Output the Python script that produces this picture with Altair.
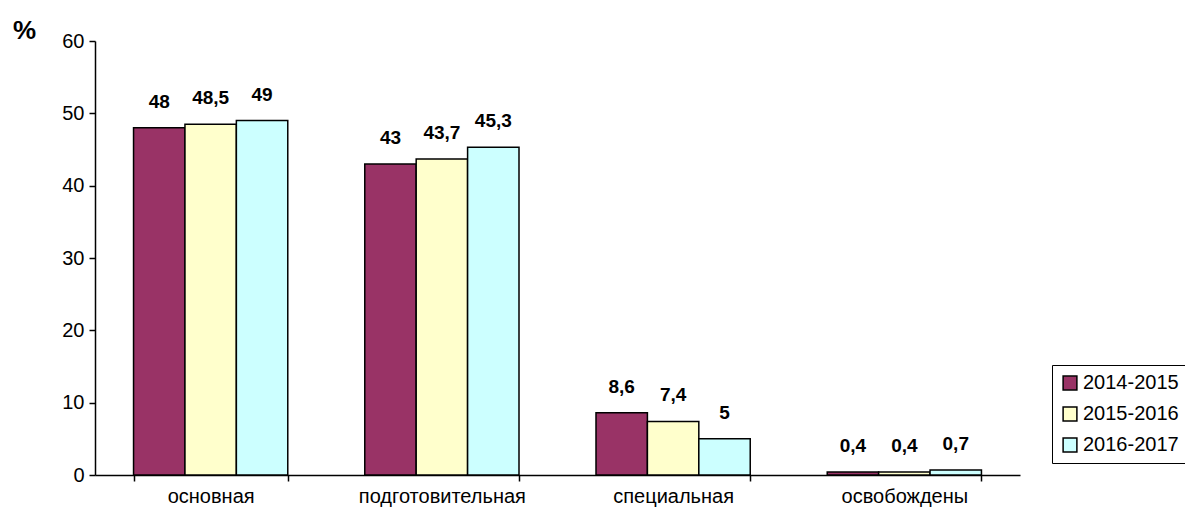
import altair as alt
import pandas as pd

categories = ["основная", "подготовительная", "специальная", "освобождены"]
years = ["2014-2015", "2015-2016", "2016-2017"]
values = {
    "2014-2015": [48, 43, 8.6, 0.4],
    "2015-2016": [48.5, 43.7, 7.4, 0.4],
    "2016-2017": [49, 45.3, 5, 0.7],
}
labels = {
    "2014-2015": ["48", "43", "8,6", "0,4"],
    "2015-2016": ["48,5", "43,7", "7,4", "0,4"],
    "2016-2017": ["49", "45,3", "5", "0,7"],
}
colors = ["#993366", "#FFFFCC", "#CCFFFF"]

rows = []
for y in years:
    for i, c in enumerate(categories):
        rows.append({"cat": c, "year": y, "value": values[y][i], "label": labels[y][i]})
df = pd.DataFrame(rows)

FONT = "Liberation Sans"

x = alt.X("cat:N", sort=categories, title=None,
          scale=alt.Scale(paddingInner=0.333, paddingOuter=0.1667),
          axis=alt.Axis(labelAngle=0, labelFontSize=20, labelColor="black", labelFont=FONT,
                        labelPadding=5, tickBand="extent", tickColor="black", tickSize=6,
                        domainColor="black", domainWidth=1.5, tickWidth=1.5))
xo = alt.XOffset("year:N", sort=years, scale=alt.Scale(paddingInner=0, paddingOuter=0))
yenc = alt.Y("value:Q", scale=alt.Scale(domain=[0, 60]),
             axis=alt.Axis(values=[0, 10, 20, 30, 40, 50, 60], grid=False, labelFontSize=20,
                           labelColor="black", labelFont=FONT, tickColor="black", tickSize=6,
                           domainColor="black", domainWidth=1.5, tickWidth=1.5, labelPadding=5,
                           title="%", titleAngle=0, titleX=-71, titleY=2, titleFontSize=26,
                           titleFontWeight="bold", titleFont=FONT, titleColor="black",
                           titleAlign="center", titleBaseline="bottom"))

base = alt.Chart(df).encode(x=x, xOffset=xo, y=yenc)

bars = base.mark_bar(stroke="black", strokeWidth=1.5).encode(
    color=alt.Color("year:N", sort=years, scale=alt.Scale(domain=years, range=colors),
                    legend=alt.Legend(title=None, orient="none", legendX=957, legendY=324,
                                      strokeColor="black", padding=8, symbolType="square",
                                      symbolSize=190, symbolStrokeColor="black", symbolStrokeWidth=1.5,
                                      labelFontSize=20, labelFont=FONT, labelColor="black",
                                      rowPadding=11, labelOffset=3, fillColor="white")),
)
text = base.mark_text(dy=-16, baseline="bottom", fontSize=19, fontWeight="bold",
                      font=FONT, color="black").encode(text="label:N")

chart = alt.layer(bars, text).properties(
    width=925, height=434,
    autosize=alt.AutoSizeParams(type="none"),
    padding={"left": 87, "top": 33, "right": 165, "bottom": 35},
    background="white",
).configure_view(stroke=None)

chart.save("out.html", embed_options={"renderer": "svg", "actions": False})
